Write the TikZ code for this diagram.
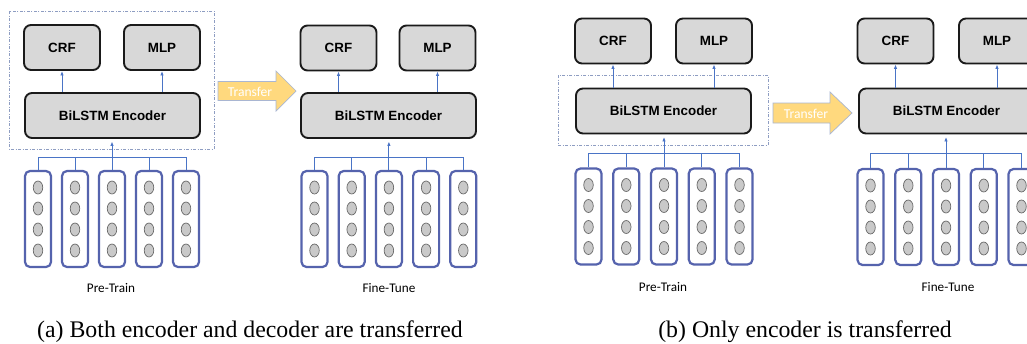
\documentclass[tikz,border=0pt]{standalone}
\usepackage{fontspec}
\usetikzlibrary{arrows.meta,shapes.geometric,calc}
\newfontfamily\lsans{Liberation Sans}
\newfontfamily\carl{Carlito}
\newfontfamily\capserif{Liberation Serif}
\definecolor{boxfill}{HTML}{D8D8D8}
\definecolor{boxline}{HTML}{1A1A1A}
\definecolor{colblue}{HTML}{5563AD}
\definecolor{dotfill}{HTML}{C9C9C9}
\definecolor{dotline}{HTML}{6A6A6A}
\definecolor{linkblue}{HTML}{4A74C6}
\definecolor{dashcol}{HTML}{8E9DC2}
\definecolor{tfill}{HTML}{FFD97E}
\definecolor{tline}{HTML}{A9B6D2}
\tikzset{
  gbox/.style={draw=boxline, fill=boxfill, line width=1.9pt, rounded corners=7pt,
    font=\lsans\bfseries\fontsize{13.4}{15}\selectfont, inner sep=0pt,
    minimum width=76pt, minimum height=45pt},
  encbox/.style={gbox, minimum width=175pt},
  colbox/.style={draw=colblue, fill=white, line width=2.2pt, rounded corners=5pt,
    minimum width=26pt, minimum height=96pt, inner sep=0pt},
  dotnode/.style={ellipse, draw=dotline, fill=dotfill, line width=0.7pt,
    minimum width=9.5pt, minimum height=13pt, inner sep=0pt},
  conn/.style={draw=linkblue, line width=0.9pt},
  arr/.style={conn, -{Latex[length=4.5pt,width=3.5pt]}},
  dashbox/.style={draw=dashcol, line width=0.8pt, dash pattern=on 3pt off 1.5pt on 1pt off 1.5pt},
  tarrow/.style={fill=tfill, draw=tline, line width=0.7pt},
  ttext/.style={text=white, font=\carl\fontsize{13.6}{15}\selectfont, inner sep=0pt},
  stage/.style={font=\carl\fontsize{13.2}{15}\selectfont, inner sep=0pt},
  captext/.style={font=\capserif\fontsize{23.8}{28}\selectfont, inner sep=0pt, anchor=base},
}
% #1 prefix, #2 first x, #3 step, #4 centre y, #5 bus y, #6 encoder node
\newcommand{\mycolumns}[6]{%
  \foreach \i in {1,...,5} {
    \pgfmathsetmacro{\cx}{#2+(\i-1)*#3}
    \node[colbox] (#1c\i) at (\cx,#4) {};
    \foreach \j/\dy in {1/-31.5,2/-10.5,3/10.5,4/31.5} {
      \node[dotnode] (#1c\i d\j) at (\cx,#4+\dy) {};
    }
  }
  \draw[conn] (#1c1.north) -- (#1c1.north |- 0,#5) -- (#1c5.north |- 0,#5) -- (#1c5.north);
  \draw[conn] (#1c2.north) -- (#1c2.north |- 0,#5);
  \draw[conn] (#1c4.north) -- (#1c4.north |- 0,#5);
  \draw[arr, shorten >=2.5pt] (#1c3.north) -- (#1c3.north |- #6.south);
}
\begin{document}
\begin{tikzpicture}[x=1pt,y=-1pt]
\clip (0,0) rectangle (1027,343);
\fill[white] (0,0) rectangle (1027,343);

% ---------- (a) pre-train ----------
\draw[dashbox] (9,11) rectangle (214,149);
\node[gbox] (apcrf) at (62,47.5) {CRF};
\node[gbox] (apmlp) at (162,47.5) {MLP};
\node[encbox] (apenc) at (112.5,115.5) {BiLSTM Encoder};
\draw[arr] (apenc.north -| apcrf.south) -- (apcrf.south);
\draw[arr] (apenc.north -| apmlp.south) -- (apmlp.south);
\mycolumns{ap}{38}{37}{219}{157}{apenc}
\node[stage] (aplab) at (111,288) {Pre-Train};

% transfer arrow (a)
\draw[tarrow] (218,81.5) -- (276,81.5) -- (276,71) -- (296,91) -- (276,111) -- (276,100.5) -- (218,100.5) -- cycle;
\node[ttext] (atr) at (250,91.5) {Transfer};

% ---------- (a) fine-tune ----------
\node[gbox] (afcrf) at (338.5,48) {CRF};
\node[gbox] (afmlp) at (437.5,48) {MLP};
\node[encbox] (afenc) at (388.5,115.5) {BiLSTM Encoder};
\draw[arr] (afenc.north -| afcrf.south) -- (afcrf.south);
\draw[arr] (afenc.north -| afmlp.south) -- (afmlp.south);
\mycolumns{af}{314.5}{37.2}{219}{157}{afenc}
\node[stage] (aflab) at (389,288) {Fine-Tune};

% ---------- (b) pre-train ----------
\draw[dashbox] (558,75) rectangle (768,145);
\node[gbox] (bpcrf) at (613,41) {CRF};
\node[gbox] (bpmlp) at (714,41) {MLP};
\node[encbox] (bpenc) at (663.5,111) {BiLSTM Encoder};
\draw[arr] (bpenc.north -| bpcrf.south) -- (bpcrf.south);
\draw[arr] (bpenc.north -| bpmlp.south) -- (bpmlp.south);
\mycolumns{bp}{588.5}{37.75}{216.5}{153}{bpenc}
\node[stage] (bplab) at (663,287) {Pre-Train};

% transfer arrow (b)
\draw[tarrow] (773,103) -- (830,103) -- (830,92) -- (852,113) -- (830,134) -- (830,123) -- (773,123) -- cycle;
\node[ttext] (btr) at (806,113.5) {Transfer};

% ---------- (b) fine-tune ----------
\node[gbox] (bfcrf) at (895.5,41) {CRF};
\node[gbox] (bfmlp) at (997,41) {MLP};
\node[encbox] (bfenc) at (946.5,111) {BiLSTM Encoder};
\draw[arr] (bfenc.north -| bfcrf.south) -- (bfcrf.south);
\draw[arr] (bfenc.north -| bfmlp.south) -- (bfmlp.south);
\mycolumns{bf}{870.5}{37.75}{217}{153}{bfenc}
\node[stage] (bflab) at (948,287) {Fine-Tune};

% captions
\node[captext] (capa) at (250,337) {(a) Both encoder and decoder are transferred};
\node[captext] (capb) at (805,337) {(b) Only encoder is transferred};
\end{tikzpicture}
\end{document}
